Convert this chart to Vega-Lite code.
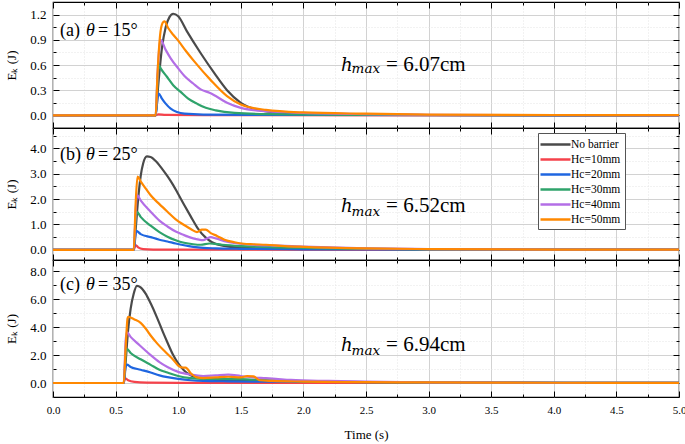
{
"$schema": "https://vega.github.io/schema/vega-lite/v6.json",
"padding": {"left": 5, "top": 0, "right": 0, "bottom": 0},
"spacing": 0,
"bounds": "flush",
"resolve": {"scale": {"x": "independent", "y": "independent", "color": "independent"}},
"datasets": {
"a": [
{"s":"No barrier","t":0,"v":0},{"s":"No barrier","t":0.82,"v":0},{"s":"No barrier","t":0.84,"v":0.35},{"s":"No barrier","t":0.87,"v":0.8},{"s":"No barrier","t":0.9,"v":1.05},{"s":"No barrier","t":0.93,"v":1.17},{"s":"No barrier","t":0.96,"v":1.21},{"s":"No barrier","t":1.0,"v":1.18},{"s":"No barrier","t":1.07,"v":1.0},{"s":"No barrier","t":1.18,"v":0.74},{"s":"No barrier","t":1.29,"v":0.5},{"s":"No barrier","t":1.39,"v":0.3},{"s":"No barrier","t":1.5,"v":0.15},{"s":"No barrier","t":1.66,"v":0.06},{"s":"No barrier","t":1.9,"v":0.025},{"s":"No barrier","t":2.3,"v":0.01},{"s":"No barrier","t":3,"v":0.005},{"s":"No barrier","t":5,"v":0},
{"s":"Hc=10mm","t":0,"v":0},{"s":"Hc=10mm","t":0.82,"v":0},{"s":"Hc=10mm","t":0.84,"v":0.012},{"s":"Hc=10mm","t":0.9,"v":0.006},{"s":"Hc=10mm","t":1.2,"v":0.003},{"s":"Hc=10mm","t":5,"v":0},
{"s":"Hc=20mm","t":0,"v":0},{"s":"Hc=20mm","t":0.82,"v":0},{"s":"Hc=20mm","t":0.835,"v":0.2},{"s":"Hc=20mm","t":0.845,"v":0.26},{"s":"Hc=20mm","t":0.87,"v":0.2},{"s":"Hc=20mm","t":0.9,"v":0.14},{"s":"Hc=20mm","t":0.94,"v":0.08},{"s":"Hc=20mm","t":0.99,"v":0.04},{"s":"Hc=20mm","t":1.05,"v":0.02},{"s":"Hc=20mm","t":1.2,"v":0.01},{"s":"Hc=20mm","t":2,"v":0.005},{"s":"Hc=20mm","t":5,"v":0},
{"s":"Hc=30mm","t":0,"v":0},{"s":"Hc=30mm","t":0.82,"v":0},{"s":"Hc=30mm","t":0.835,"v":0.42},{"s":"Hc=30mm","t":0.845,"v":0.6},{"s":"Hc=30mm","t":0.86,"v":0.56},{"s":"Hc=30mm","t":0.91,"v":0.46},{"s":"Hc=30mm","t":0.96,"v":0.36},{"s":"Hc=30mm","t":1.02,"v":0.28},{"s":"Hc=30mm","t":1.08,"v":0.2},{"s":"Hc=30mm","t":1.15,"v":0.14},{"s":"Hc=30mm","t":1.22,"v":0.09},{"s":"Hc=30mm","t":1.3,"v":0.06},{"s":"Hc=30mm","t":1.45,"v":0.03},{"s":"Hc=30mm","t":1.7,"v":0.015},{"s":"Hc=30mm","t":2.5,"v":0.005},{"s":"Hc=30mm","t":5,"v":0},
{"s":"Hc=40mm","t":0,"v":0},{"s":"Hc=40mm","t":0.82,"v":0},{"s":"Hc=40mm","t":0.835,"v":0.5},{"s":"Hc=40mm","t":0.85,"v":0.82},{"s":"Hc=40mm","t":0.86,"v":0.9},{"s":"Hc=40mm","t":0.9,"v":0.78},{"s":"Hc=40mm","t":0.94,"v":0.68},{"s":"Hc=40mm","t":1.0,"v":0.56},{"s":"Hc=40mm","t":1.05,"v":0.47},{"s":"Hc=40mm","t":1.12,"v":0.38},{"s":"Hc=40mm","t":1.18,"v":0.31},{"s":"Hc=40mm","t":1.25,"v":0.27},{"s":"Hc=40mm","t":1.3,"v":0.23},{"s":"Hc=40mm","t":1.39,"v":0.15},{"s":"Hc=40mm","t":1.5,"v":0.09},{"s":"Hc=40mm","t":1.7,"v":0.05},{"s":"Hc=40mm","t":2.0,"v":0.03},{"s":"Hc=40mm","t":2.5,"v":0.015},{"s":"Hc=40mm","t":3,"v":0.008},{"s":"Hc=40mm","t":5,"v":0},
{"s":"Hc=50mm","t":0,"v":0},{"s":"Hc=50mm","t":0.82,"v":0},{"s":"Hc=50mm","t":0.835,"v":0.5},{"s":"Hc=50mm","t":0.855,"v":0.95},{"s":"Hc=50mm","t":0.875,"v":1.1},{"s":"Hc=50mm","t":0.89,"v":1.12},{"s":"Hc=50mm","t":0.92,"v":1.04},{"s":"Hc=50mm","t":0.96,"v":0.96},{"s":"Hc=50mm","t":1.0,"v":0.89},{"s":"Hc=50mm","t":1.06,"v":0.77},{"s":"Hc=50mm","t":1.13,"v":0.64},{"s":"Hc=50mm","t":1.26,"v":0.42},{"s":"Hc=50mm","t":1.39,"v":0.23},{"s":"Hc=50mm","t":1.5,"v":0.13},{"s":"Hc=50mm","t":1.7,"v":0.065},{"s":"Hc=50mm","t":2.0,"v":0.035},{"s":"Hc=50mm","t":2.5,"v":0.02},{"s":"Hc=50mm","t":3.0,"v":0.01},{"s":"Hc=50mm","t":4,"v":0.005},{"s":"Hc=50mm","t":5,"v":0.003}
],
"b": [
{"s":"No barrier","t":0,"v":0},{"s":"No barrier","t":0.645,"v":0},{"s":"No barrier","t":0.66,"v":0.8},{"s":"No barrier","t":0.68,"v":2.0},{"s":"No barrier","t":0.7,"v":2.9},{"s":"No barrier","t":0.72,"v":3.4},{"s":"No barrier","t":0.75,"v":3.68},{"s":"No barrier","t":0.78,"v":3.66},{"s":"No barrier","t":0.82,"v":3.5},{"s":"No barrier","t":0.87,"v":3.2},{"s":"No barrier","t":0.914,"v":2.9},{"s":"No barrier","t":0.96,"v":2.55},{"s":"No barrier","t":1.0,"v":2.2},{"s":"No barrier","t":1.047,"v":1.78},{"s":"No barrier","t":1.1,"v":1.32},{"s":"No barrier","t":1.155,"v":0.86},{"s":"No barrier","t":1.22,"v":0.48},{"s":"No barrier","t":1.27,"v":0.3},{"s":"No barrier","t":1.33,"v":0.19},{"s":"No barrier","t":1.4,"v":0.13},{"s":"No barrier","t":1.5,"v":0.09},{"s":"No barrier","t":1.8,"v":0.04},{"s":"No barrier","t":2.5,"v":0.02},{"s":"No barrier","t":5,"v":0.005},
{"s":"Hc=10mm","t":0,"v":0},{"s":"Hc=10mm","t":0.645,"v":0},{"s":"Hc=10mm","t":0.66,"v":0.19},{"s":"Hc=10mm","t":0.68,"v":0.1},{"s":"Hc=10mm","t":0.72,"v":0.03},{"s":"Hc=10mm","t":0.8,"v":0.01},{"s":"Hc=10mm","t":1.0,"v":0.005},{"s":"Hc=10mm","t":5,"v":0},
{"s":"Hc=20mm","t":0,"v":0},{"s":"Hc=20mm","t":0.645,"v":0},{"s":"Hc=20mm","t":0.66,"v":0.6},{"s":"Hc=20mm","t":0.665,"v":0.75},{"s":"Hc=20mm","t":0.7,"v":0.62},{"s":"Hc=20mm","t":0.78,"v":0.5},{"s":"Hc=20mm","t":0.85,"v":0.4},{"s":"Hc=20mm","t":0.914,"v":0.33},{"s":"Hc=20mm","t":0.98,"v":0.25},{"s":"Hc=20mm","t":1.047,"v":0.18},{"s":"Hc=20mm","t":1.12,"v":0.12},{"s":"Hc=20mm","t":1.2,"v":0.08},{"s":"Hc=20mm","t":1.3,"v":0.06},{"s":"Hc=20mm","t":1.5,"v":0.04},{"s":"Hc=20mm","t":2,"v":0.02},{"s":"Hc=20mm","t":3,"v":0.01},{"s":"Hc=20mm","t":5,"v":0},
{"s":"Hc=30mm","t":0,"v":0},{"s":"Hc=30mm","t":0.645,"v":0},{"s":"Hc=30mm","t":0.66,"v":1.2},{"s":"Hc=30mm","t":0.67,"v":1.5},{"s":"Hc=30mm","t":0.7,"v":1.3},{"s":"Hc=30mm","t":0.78,"v":0.95},{"s":"Hc=30mm","t":0.85,"v":0.7},{"s":"Hc=30mm","t":0.914,"v":0.52},{"s":"Hc=30mm","t":0.98,"v":0.38},{"s":"Hc=30mm","t":1.047,"v":0.28},{"s":"Hc=30mm","t":1.12,"v":0.22},{"s":"Hc=30mm","t":1.18,"v":0.2},{"s":"Hc=30mm","t":1.25,"v":0.25},{"s":"Hc=30mm","t":1.35,"v":0.2},{"s":"Hc=30mm","t":1.5,"v":0.15},{"s":"Hc=30mm","t":1.8,"v":0.1},{"s":"Hc=30mm","t":2.2,"v":0.06},{"s":"Hc=30mm","t":3,"v":0.02},{"s":"Hc=30mm","t":5,"v":0.005},
{"s":"Hc=40mm","t":0,"v":0},{"s":"Hc=40mm","t":0.645,"v":0},{"s":"Hc=40mm","t":0.66,"v":1.5},{"s":"Hc=40mm","t":0.67,"v":2.17},{"s":"Hc=40mm","t":0.7,"v":1.95},{"s":"Hc=40mm","t":0.78,"v":1.5},{"s":"Hc=40mm","t":0.85,"v":1.15},{"s":"Hc=40mm","t":0.914,"v":0.92},{"s":"Hc=40mm","t":0.98,"v":0.72},{"s":"Hc=40mm","t":1.047,"v":0.58},{"s":"Hc=40mm","t":1.12,"v":0.45},{"s":"Hc=40mm","t":1.2,"v":0.38},{"s":"Hc=40mm","t":1.23,"v":0.45},{"s":"Hc=40mm","t":1.26,"v":0.5},{"s":"Hc=40mm","t":1.3,"v":0.45},{"s":"Hc=40mm","t":1.39,"v":0.32},{"s":"Hc=40mm","t":1.5,"v":0.24},{"s":"Hc=40mm","t":1.6,"v":0.2},{"s":"Hc=40mm","t":1.8,"v":0.17},{"s":"Hc=40mm","t":2.0,"v":0.13},{"s":"Hc=40mm","t":2.5,"v":0.06},{"s":"Hc=40mm","t":3,"v":0.03},{"s":"Hc=40mm","t":4,"v":0.01},{"s":"Hc=40mm","t":5,"v":0.005},
{"s":"Hc=50mm","t":0,"v":0},{"s":"Hc=50mm","t":0.645,"v":0},{"s":"Hc=50mm","t":0.66,"v":1.8},{"s":"Hc=50mm","t":0.675,"v":2.89},{"s":"Hc=50mm","t":0.7,"v":2.7},{"s":"Hc=50mm","t":0.75,"v":2.35},{"s":"Hc=50mm","t":0.78,"v":2.15},{"s":"Hc=50mm","t":0.85,"v":1.8},{"s":"Hc=50mm","t":0.914,"v":1.5},{"s":"Hc=50mm","t":0.98,"v":1.2},{"s":"Hc=50mm","t":1.047,"v":0.98},{"s":"Hc=50mm","t":1.1,"v":0.82},{"s":"Hc=50mm","t":1.15,"v":0.7},{"s":"Hc=50mm","t":1.19,"v":0.8},{"s":"Hc=50mm","t":1.22,"v":0.8},{"s":"Hc=50mm","t":1.26,"v":0.66},{"s":"Hc=50mm","t":1.31,"v":0.55},{"s":"Hc=50mm","t":1.37,"v":0.4},{"s":"Hc=50mm","t":1.45,"v":0.3},{"s":"Hc=50mm","t":1.525,"v":0.24},{"s":"Hc=50mm","t":1.6,"v":0.22},{"s":"Hc=50mm","t":1.7,"v":0.2},{"s":"Hc=50mm","t":1.85,"v":0.15},{"s":"Hc=50mm","t":2.0,"v":0.12},{"s":"Hc=50mm","t":2.5,"v":0.06},{"s":"Hc=50mm","t":3.0,"v":0.03},{"s":"Hc=50mm","t":4,"v":0.01},{"s":"Hc=50mm","t":5,"v":0.005}
],
"c": [
{"s":"No barrier","t":0,"v":0},{"s":"No barrier","t":0.565,"v":0},{"s":"No barrier","t":0.58,"v":1.5},{"s":"No barrier","t":0.6,"v":3.8},{"s":"No barrier","t":0.62,"v":5.3},{"s":"No barrier","t":0.645,"v":6.4},{"s":"No barrier","t":0.67,"v":6.95},{"s":"No barrier","t":0.7,"v":6.85},{"s":"No barrier","t":0.74,"v":6.4},{"s":"No barrier","t":0.78,"v":5.7},{"s":"No barrier","t":0.83,"v":4.7},{"s":"No barrier","t":0.88,"v":3.6},{"s":"No barrier","t":0.914,"v":2.9},{"s":"No barrier","t":0.96,"v":2.0},{"s":"No barrier","t":1.0,"v":1.4},{"s":"No barrier","t":1.047,"v":0.9},{"s":"No barrier","t":1.1,"v":0.55},{"s":"No barrier","t":1.18,"v":0.33},{"s":"No barrier","t":1.3,"v":0.2},{"s":"No barrier","t":1.5,"v":0.15},{"s":"No barrier","t":2,"v":0.08},{"s":"No barrier","t":3,"v":0.03},{"s":"No barrier","t":5,"v":0.01},
{"s":"Hc=10mm","t":0,"v":0},{"s":"Hc=10mm","t":0.565,"v":0},{"s":"Hc=10mm","t":0.575,"v":0.36},{"s":"Hc=10mm","t":0.6,"v":0.2},{"s":"Hc=10mm","t":0.65,"v":0.08},{"s":"Hc=10mm","t":0.75,"v":0.03},{"s":"Hc=10mm","t":1.0,"v":0.01},{"s":"Hc=10mm","t":5,"v":0},
{"s":"Hc=20mm","t":0,"v":0},{"s":"Hc=20mm","t":0.565,"v":0},{"s":"Hc=20mm","t":0.58,"v":1.1},{"s":"Hc=20mm","t":0.59,"v":1.31},{"s":"Hc=20mm","t":0.62,"v":1.15},{"s":"Hc=20mm","t":0.7,"v":0.95},{"s":"Hc=20mm","t":0.78,"v":0.75},{"s":"Hc=20mm","t":0.85,"v":0.55},{"s":"Hc=20mm","t":0.914,"v":0.42},{"s":"Hc=20mm","t":1.0,"v":0.3},{"s":"Hc=20mm","t":1.1,"v":0.2},{"s":"Hc=20mm","t":1.2,"v":0.15},{"s":"Hc=20mm","t":1.4,"v":0.12},{"s":"Hc=20mm","t":1.7,"v":0.1},{"s":"Hc=20mm","t":2,"v":0.08},{"s":"Hc=20mm","t":3,"v":0.04},{"s":"Hc=20mm","t":5,"v":0.01},
{"s":"Hc=30mm","t":0,"v":0},{"s":"Hc=30mm","t":0.565,"v":0},{"s":"Hc=30mm","t":0.58,"v":2.0},{"s":"Hc=30mm","t":0.59,"v":2.45},{"s":"Hc=30mm","t":0.62,"v":2.15},{"s":"Hc=30mm","t":0.7,"v":1.7},{"s":"Hc=30mm","t":0.78,"v":1.3},{"s":"Hc=30mm","t":0.85,"v":0.95},{"s":"Hc=30mm","t":0.914,"v":0.75},{"s":"Hc=30mm","t":1.0,"v":0.5},{"s":"Hc=30mm","t":1.1,"v":0.35},{"s":"Hc=30mm","t":1.2,"v":0.3},{"s":"Hc=30mm","t":1.35,"v":0.3},{"s":"Hc=30mm","t":1.5,"v":0.28},{"s":"Hc=30mm","t":1.7,"v":0.2},{"s":"Hc=30mm","t":2.0,"v":0.12},{"s":"Hc=30mm","t":2.5,"v":0.07},{"s":"Hc=30mm","t":3,"v":0.04},{"s":"Hc=30mm","t":4,"v":0.02},{"s":"Hc=30mm","t":5,"v":0.01},
{"s":"Hc=40mm","t":0,"v":0},{"s":"Hc=40mm","t":0.565,"v":0},{"s":"Hc=40mm","t":0.58,"v":3.0},{"s":"Hc=40mm","t":0.59,"v":3.64},{"s":"Hc=40mm","t":0.62,"v":3.3},{"s":"Hc=40mm","t":0.68,"v":2.8},{"s":"Hc=40mm","t":0.78,"v":2.0},{"s":"Hc=40mm","t":0.85,"v":1.5},{"s":"Hc=40mm","t":0.914,"v":1.15},{"s":"Hc=40mm","t":1.0,"v":0.8},{"s":"Hc=40mm","t":1.1,"v":0.6},{"s":"Hc=40mm","t":1.2,"v":0.5},{"s":"Hc=40mm","t":1.3,"v":0.55},{"s":"Hc=40mm","t":1.4,"v":0.6},{"s":"Hc=40mm","t":1.5,"v":0.5},{"s":"Hc=40mm","t":1.6,"v":0.4},{"s":"Hc=40mm","t":1.7,"v":0.35},{"s":"Hc=40mm","t":1.78,"v":0.3},{"s":"Hc=40mm","t":1.9,"v":0.22},{"s":"Hc=40mm","t":2.2,"v":0.15},{"s":"Hc=40mm","t":2.5,"v":0.1},{"s":"Hc=40mm","t":3,"v":0.05},{"s":"Hc=40mm","t":4,"v":0.02},{"s":"Hc=40mm","t":5,"v":0.01},
{"s":"Hc=50mm","t":0,"v":0},{"s":"Hc=50mm","t":0.565,"v":0},{"s":"Hc=50mm","t":0.58,"v":2.5},{"s":"Hc=50mm","t":0.595,"v":4.6},{"s":"Hc=50mm","t":0.6,"v":4.74},{"s":"Hc=50mm","t":0.65,"v":4.55},{"s":"Hc=50mm","t":0.7,"v":4.3},{"s":"Hc=50mm","t":0.74,"v":3.9},{"s":"Hc=50mm","t":0.78,"v":3.4},{"s":"Hc=50mm","t":0.835,"v":2.8},{"s":"Hc=50mm","t":0.9,"v":2.2},{"s":"Hc=50mm","t":0.967,"v":1.6},{"s":"Hc=50mm","t":1.0,"v":1.25},{"s":"Hc=50mm","t":1.04,"v":1.1},{"s":"Hc=50mm","t":1.06,"v":1.1},{"s":"Hc=50mm","t":1.1,"v":0.7},{"s":"Hc=50mm","t":1.15,"v":0.4},{"s":"Hc=50mm","t":1.2,"v":0.35},{"s":"Hc=50mm","t":1.3,"v":0.4},{"s":"Hc=50mm","t":1.4,"v":0.45},{"s":"Hc=50mm","t":1.5,"v":0.4},{"s":"Hc=50mm","t":1.55,"v":0.5},{"s":"Hc=50mm","t":1.6,"v":0.48},{"s":"Hc=50mm","t":1.65,"v":0.2},{"s":"Hc=50mm","t":1.75,"v":0.15},{"s":"Hc=50mm","t":2.0,"v":0.1},{"s":"Hc=50mm","t":2.5,"v":0.06},{"s":"Hc=50mm","t":3,"v":0.04},{"s":"Hc=50mm","t":4,"v":0.02},{"s":"Hc=50mm","t":5,"v":0.01}
],
"notes": [
{"p":"a","k":"lab","t":0.056,"v":1.008,"txt":"(a)"},{"p":"a","k":"th","t":0.264,"v":1.008,"txt":"θ"},{"p":"a","k":"deg","t":0.359,"v":1.008,"txt":"= 15°"},
{"p":"a","k":"h","t":2.3,"v":0.532,"txt":"h"},{"p":"a","k":"max","t":2.385,"v":0.5,"txt":"max"},{"p":"a","k":"eq","t":2.66,"v":0.532,"txt":"= 6.07cm"},
{"p":"b","k":"lab","t":0.056,"v":3.72,"txt":"(b)"},{"p":"b","k":"th","t":0.264,"v":3.72,"txt":"θ"},{"p":"b","k":"deg","t":0.359,"v":3.72,"txt":"= 25°"},
{"p":"b","k":"h","t":2.3,"v":1.51,"txt":"h"},{"p":"b","k":"max","t":2.385,"v":1.34,"txt":"max"},{"p":"b","k":"eq","t":2.66,"v":1.51,"txt":"= 6.52cm"},
{"p":"c","k":"lab","t":0.056,"v":6.98,"txt":"(c)"},{"p":"c","k":"th","t":0.264,"v":6.98,"txt":"θ"},{"p":"c","k":"deg","t":0.359,"v":6.98,"txt":"= 35°"},
{"p":"c","k":"h","t":2.3,"v":2.29,"txt":"h"},{"p":"c","k":"max","t":2.385,"v":1.98,"txt":"max"},{"p":"c","k":"eq","t":2.66,"v":2.29,"txt":"= 6.94cm"}
]
},
"vconcat": [
{
"width": 626, "height": 126,
"resolve": {"axis": {"x": "independent", "y": "independent"}},
"layer": [
{"data": {"name": "a"},
 "mark": {"type": "line", "strokeWidth": 2.2, "interpolate": "monotone"},
 "encoding": {
  "x": {"field": "t", "type": "quantitative", "scale": {"domain": [0, 5], "nice": false, "zero": false},
   "axis": {"orient": "bottom", "values": [0,0.25,0.5,0.75,1,1.25,1.5,1.75,2,2.25,2.5,2.75,3,3.25,3.5,3.75,4,4.25,4.5,4.75,5], "title": null, "labels": false, "domain": false, "grid": true,
    "gridColor": {"condition": {"test": "datum.value % 0.5 !== 0", "value": "#e4e4e4"}, "value": "#d2d2d2"},
    "gridDash": {"condition": {"test": "datum.value % 0.5 !== 0", "value": [1, 2]}, "value": []},
    "tickSize": {"condition": {"test": "datum.value % 0.5 !== 0", "value": -3}, "value": -6}}},
  "y": {"field": "v", "type": "quantitative", "scale": {"domain": [-0.15, 1.35], "nice": false, "zero": false},
   "axis": {"orient": "left", "values": [0,0.15,0.3,0.45,0.6,0.75,0.9,1.05,1.2], "title": "Eₖ (J)", "titleFontSize": 13, "titlePadding": 11,
    "labelExpr": "abs(datum.value/0.3-round(datum.value/0.3))<0.001 ? format(datum.value,'.1f') : ''", "labelFontSize": 13, "labelPadding": 13, "domain": false, "grid": true,
    "gridColor": {"condition": {"test": "abs(datum.value/0.3-round(datum.value/0.3))>0.001", "value": "#e4e4e4"}, "value": "#d2d2d2"},
    "gridDash": {"condition": {"test": "abs(datum.value/0.3-round(datum.value/0.3))>0.001", "value": [1, 2]}, "value": []},
    "tickSize": {"condition": {"test": "abs(datum.value/0.3-round(datum.value/0.3))>0.001", "value": -3}, "value": -6}}},
  "color": {"field": "s", "type": "nominal", "legend": null,
   "scale": {"domain": ["No barrier","Hc=10mm","Hc=20mm","Hc=30mm","Hc=40mm","Hc=50mm"], "range": ["#4a4a4a","#f5424b","#1f66e0","#2fa36b","#b36ee6","#ff8800"]}}
 }},
{"data": {"name": "notes"}, "transform": [{"filter": "datum.p=='a' && datum.k=='lab'"}],
 "mark": {"type": "text", "align": "left", "baseline": "middle", "fontSize": 18, "font": "Liberation Serif"},
 "encoding": {
  "x": {"field": "t", "type": "quantitative", "axis": {"orient": "top", "values": [0,0.25,0.5,0.75,1,1.25,1.5,1.75,2,2.25,2.5,2.75,3,3.25,3.5,3.75,4,4.25,4.5,4.75,5], "title": null, "labels": false, "domain": false, "grid": false,
    "tickSize": {"condition": {"test": "datum.value % 0.5 !== 0", "value": -3}, "value": -6}}},
  "y": {"field": "v", "type": "quantitative", "axis": {"orient": "right", "values": [0,0.15,0.3,0.45,0.6,0.75,0.9,1.05,1.2], "title": null, "labels": false, "domain": false, "grid": false,
    "tickSize": {"condition": {"test": "abs(datum.value/0.3-round(datum.value/0.3))>0.001", "value": -3}, "value": -6}}},
  "text": {"field": "txt"}}},
{"data": {"name": "notes"}, "transform": [{"filter": "datum.p=='a' && datum.k=='th'"}],
 "mark": {"type": "text", "align": "left", "baseline": "middle", "fontSize": 18, "fontStyle": "italic", "font": "Liberation Serif"},
 "encoding": {"x": {"field": "t", "type": "quantitative", "axis": null}, "y": {"field": "v", "type": "quantitative", "axis": null}, "text": {"field": "txt"}}},
{"data": {"name": "notes"}, "transform": [{"filter": "datum.p=='a' && datum.k=='deg'"}],
 "mark": {"type": "text", "align": "left", "baseline": "middle", "fontSize": 18, "font": "Liberation Serif"},
 "encoding": {"x": {"field": "t", "type": "quantitative", "axis": null}, "y": {"field": "v", "type": "quantitative", "axis": null}, "text": {"field": "txt"}}},
{"data": {"name": "notes"}, "transform": [{"filter": "datum.p=='a' && datum.k=='h'"}],
 "mark": {"type": "text", "align": "left", "baseline": "alphabetic", "fontSize": 18, "fontStyle": "italic", "font": "DejaVu Serif"},
 "encoding": {"x": {"field": "t", "type": "quantitative", "axis": null}, "y": {"field": "v", "type": "quantitative", "axis": null}, "text": {"field": "txt"}}},
{"data": {"name": "notes"}, "transform": [{"filter": "datum.p=='a' && datum.k=='max'"}],
 "mark": {"type": "text", "align": "left", "baseline": "alphabetic", "fontSize": 13.5, "fontStyle": "italic", "font": "DejaVu Serif"},
 "encoding": {"x": {"field": "t", "type": "quantitative", "axis": null}, "y": {"field": "v", "type": "quantitative", "axis": null}, "text": {"field": "txt"}}},
{"data": {"name": "notes"}, "transform": [{"filter": "datum.p=='a' && datum.k=='eq'"}],
 "mark": {"type": "text", "align": "left", "baseline": "alphabetic", "fontSize": 21, "font": "Liberation Serif"},
 "encoding": {"x": {"field": "t", "type": "quantitative", "axis": null}, "y": {"field": "v", "type": "quantitative", "axis": null}, "text": {"field": "txt"}}}
]
},
{
"width": 626, "height": 132,
"resolve": {"axis": {"x": "independent", "y": "independent"}},
"layer": [
{"data": {"name": "b"},
 "mark": {"type": "line", "strokeWidth": 2.2, "interpolate": "monotone"},
 "encoding": {
  "x": {"field": "t", "type": "quantitative", "scale": {"domain": [0, 5], "nice": false, "zero": false},
   "axis": {"orient": "bottom", "values": [0,0.25,0.5,0.75,1,1.25,1.5,1.75,2,2.25,2.5,2.75,3,3.25,3.5,3.75,4,4.25,4.5,4.75,5], "title": null, "labels": false, "domain": false, "grid": true,
    "gridColor": {"condition": {"test": "datum.value % 0.5 !== 0", "value": "#e4e4e4"}, "value": "#d2d2d2"},
    "gridDash": {"condition": {"test": "datum.value % 0.5 !== 0", "value": [1, 2]}, "value": []},
    "tickSize": {"condition": {"test": "datum.value % 0.5 !== 0", "value": -3}, "value": -6}}},
  "y": {"field": "v", "type": "quantitative", "scale": {"domain": [-0.4, 4.8], "nice": false, "zero": false},
   "axis": {"orient": "left", "values": [0,0.5,1,1.5,2,2.5,3,3.5,4,4.5], "title": "Eₖ (J)", "titleFontSize": 13, "titlePadding": 11,
    "labelExpr": "datum.value % 1 === 0 ? format(datum.value,'.1f') : ''", "labelFontSize": 13, "labelPadding": 13, "domain": false, "grid": true,
    "gridColor": {"condition": {"test": "datum.value % 1 !== 0", "value": "#e4e4e4"}, "value": "#d2d2d2"},
    "gridDash": {"condition": {"test": "datum.value % 1 !== 0", "value": [1, 2]}, "value": []},
    "tickSize": {"condition": {"test": "datum.value % 1 !== 0", "value": -3}, "value": -6}}},
  "color": {"field": "s", "type": "nominal",
   "legend": {"orient": "none", "legendX": 485, "legendY": 5, "title": null},
   "scale": {"domain": ["No barrier","Hc=10mm","Hc=20mm","Hc=30mm","Hc=40mm","Hc=50mm"], "range": ["#4a4a4a","#f5424b","#1f66e0","#2fa36b","#b36ee6","#ff8800"]}}
 }},
{"data": {"name": "notes"}, "transform": [{"filter": "datum.p=='b' && datum.k=='lab'"}],
 "mark": {"type": "text", "align": "left", "baseline": "middle", "fontSize": 18, "font": "Liberation Serif"},
 "encoding": {
  "x": {"field": "t", "type": "quantitative", "axis": {"orient": "top", "values": [0,0.25,0.5,0.75,1,1.25,1.5,1.75,2,2.25,2.5,2.75,3,3.25,3.5,3.75,4,4.25,4.5,4.75,5], "title": null, "labels": false, "domain": false, "grid": false,
    "tickSize": {"condition": {"test": "datum.value % 0.5 !== 0", "value": -3}, "value": -6}}},
  "y": {"field": "v", "type": "quantitative", "axis": {"orient": "right", "values": [0,0.5,1,1.5,2,2.5,3,3.5,4,4.5], "title": null, "labels": false, "domain": false, "grid": false,
    "tickSize": {"condition": {"test": "datum.value % 1 !== 0", "value": -3}, "value": -6}}},
  "text": {"field": "txt"}}},
{"data": {"name": "notes"}, "transform": [{"filter": "datum.p=='b' && datum.k=='th'"}],
 "mark": {"type": "text", "align": "left", "baseline": "middle", "fontSize": 18, "fontStyle": "italic", "font": "Liberation Serif"},
 "encoding": {"x": {"field": "t", "type": "quantitative", "axis": null}, "y": {"field": "v", "type": "quantitative", "axis": null}, "text": {"field": "txt"}}},
{"data": {"name": "notes"}, "transform": [{"filter": "datum.p=='b' && datum.k=='deg'"}],
 "mark": {"type": "text", "align": "left", "baseline": "middle", "fontSize": 18, "font": "Liberation Serif"},
 "encoding": {"x": {"field": "t", "type": "quantitative", "axis": null}, "y": {"field": "v", "type": "quantitative", "axis": null}, "text": {"field": "txt"}}},
{"data": {"name": "notes"}, "transform": [{"filter": "datum.p=='b' && datum.k=='h'"}],
 "mark": {"type": "text", "align": "left", "baseline": "alphabetic", "fontSize": 18, "fontStyle": "italic", "font": "DejaVu Serif"},
 "encoding": {"x": {"field": "t", "type": "quantitative", "axis": null}, "y": {"field": "v", "type": "quantitative", "axis": null}, "text": {"field": "txt"}}},
{"data": {"name": "notes"}, "transform": [{"filter": "datum.p=='b' && datum.k=='max'"}],
 "mark": {"type": "text", "align": "left", "baseline": "alphabetic", "fontSize": 13.5, "fontStyle": "italic", "font": "DejaVu Serif"},
 "encoding": {"x": {"field": "t", "type": "quantitative", "axis": null}, "y": {"field": "v", "type": "quantitative", "axis": null}, "text": {"field": "txt"}}},
{"data": {"name": "notes"}, "transform": [{"filter": "datum.p=='b' && datum.k=='eq'"}],
 "mark": {"type": "text", "align": "left", "baseline": "alphabetic", "fontSize": 21, "font": "Liberation Serif"},
 "encoding": {"x": {"field": "t", "type": "quantitative", "axis": null}, "y": {"field": "v", "type": "quantitative", "axis": null}, "text": {"field": "txt"}}}
]
},
{
"width": 626, "height": 137,
"resolve": {"axis": {"x": "independent", "y": "independent"}},
"layer": [
{"data": {"name": "c"},
 "mark": {"type": "line", "strokeWidth": 2.2, "interpolate": "monotone"},
 "encoding": {
  "x": {"field": "t", "type": "quantitative", "scale": {"domain": [0, 5], "nice": false, "zero": false},
   "axis": {"orient": "bottom", "values": [0,0.25,0.5,0.75,1,1.25,1.5,1.75,2,2.25,2.5,2.75,3,3.25,3.5,3.75,4,4.25,4.5,4.75,5], "title": "Time (s)", "titleFontSize": 13, "titlePadding": 10,
    "labelExpr": "datum.value % 0.5 === 0 ? format(datum.value,'.1f') : ''", "labelFontSize": 11, "labelPadding": 13, "domain": false, "grid": true,
    "gridColor": {"condition": {"test": "datum.value % 0.5 !== 0", "value": "#e4e4e4"}, "value": "#d2d2d2"},
    "gridDash": {"condition": {"test": "datum.value % 0.5 !== 0", "value": [1, 2]}, "value": []},
    "tickSize": {"condition": {"test": "datum.value % 0.5 !== 0", "value": -3}, "value": -6}}},
  "y": {"field": "v", "type": "quantitative", "scale": {"domain": [-1, 8.8], "nice": false, "zero": false},
   "axis": {"orient": "left", "values": [0,1,2,3,4,5,6,7,8], "title": "Eₖ (J)", "titleFontSize": 13, "titlePadding": 11,
    "labelExpr": "datum.value % 2 === 0 ? format(datum.value,'.1f') : ''", "labelFontSize": 13, "labelPadding": 13, "domain": false, "grid": true,
    "gridColor": {"condition": {"test": "datum.value % 2 !== 0", "value": "#e4e4e4"}, "value": "#d2d2d2"},
    "gridDash": {"condition": {"test": "datum.value % 2 !== 0", "value": [1, 2]}, "value": []},
    "tickSize": {"condition": {"test": "datum.value % 2 !== 0", "value": -3}, "value": -6}}},
  "color": {"field": "s", "type": "nominal", "legend": null,
   "scale": {"domain": ["No barrier","Hc=10mm","Hc=20mm","Hc=30mm","Hc=40mm","Hc=50mm"], "range": ["#4a4a4a","#f5424b","#1f66e0","#2fa36b","#b36ee6","#ff8800"]}}
 }},
{"data": {"name": "notes"}, "transform": [{"filter": "datum.p=='c' && datum.k=='lab'"}],
 "mark": {"type": "text", "align": "left", "baseline": "middle", "fontSize": 18, "font": "Liberation Serif"},
 "encoding": {
  "x": {"field": "t", "type": "quantitative", "axis": {"orient": "top", "values": [0,0.25,0.5,0.75,1,1.25,1.5,1.75,2,2.25,2.5,2.75,3,3.25,3.5,3.75,4,4.25,4.5,4.75,5], "title": null, "labels": false, "domain": false, "grid": false,
    "tickSize": {"condition": {"test": "datum.value % 0.5 !== 0", "value": -3}, "value": -6}}},
  "y": {"field": "v", "type": "quantitative", "axis": {"orient": "right", "values": [0,1,2,3,4,5,6,7,8], "title": null, "labels": false, "domain": false, "grid": false,
    "tickSize": {"condition": {"test": "datum.value % 2 !== 0", "value": -3}, "value": -6}}},
  "text": {"field": "txt"}}},
{"data": {"name": "notes"}, "transform": [{"filter": "datum.p=='c' && datum.k=='th'"}],
 "mark": {"type": "text", "align": "left", "baseline": "middle", "fontSize": 18, "fontStyle": "italic", "font": "Liberation Serif"},
 "encoding": {"x": {"field": "t", "type": "quantitative", "axis": null}, "y": {"field": "v", "type": "quantitative", "axis": null}, "text": {"field": "txt"}}},
{"data": {"name": "notes"}, "transform": [{"filter": "datum.p=='c' && datum.k=='deg'"}],
 "mark": {"type": "text", "align": "left", "baseline": "middle", "fontSize": 18, "font": "Liberation Serif"},
 "encoding": {"x": {"field": "t", "type": "quantitative", "axis": null}, "y": {"field": "v", "type": "quantitative", "axis": null}, "text": {"field": "txt"}}},
{"data": {"name": "notes"}, "transform": [{"filter": "datum.p=='c' && datum.k=='h'"}],
 "mark": {"type": "text", "align": "left", "baseline": "alphabetic", "fontSize": 18, "fontStyle": "italic", "font": "DejaVu Serif"},
 "encoding": {"x": {"field": "t", "type": "quantitative", "axis": null}, "y": {"field": "v", "type": "quantitative", "axis": null}, "text": {"field": "txt"}}},
{"data": {"name": "notes"}, "transform": [{"filter": "datum.p=='c' && datum.k=='max'"}],
 "mark": {"type": "text", "align": "left", "baseline": "alphabetic", "fontSize": 13.5, "fontStyle": "italic", "font": "DejaVu Serif"},
 "encoding": {"x": {"field": "t", "type": "quantitative", "axis": null}, "y": {"field": "v", "type": "quantitative", "axis": null}, "text": {"field": "txt"}}},
{"data": {"name": "notes"}, "transform": [{"filter": "datum.p=='c' && datum.k=='eq'"}],
 "mark": {"type": "text", "align": "left", "baseline": "alphabetic", "fontSize": 21, "font": "Liberation Serif"},
 "encoding": {"x": {"field": "t", "type": "quantitative", "axis": null}, "y": {"field": "v", "type": "quantitative", "axis": null}, "text": {"field": "txt"}}}
]
}
],
"config": {
 "font": "Liberation Serif",
 "view": {"stroke": "#000", "strokeWidth": 1.2},
 "axis": {"labelFont": "Liberation Serif", "titleFont": "Liberation Serif", "labelColor": "#000", "titleColor": "#000", "titleFontWeight": "normal", "tickColor": "#000", "tickWidth": 1, "labelOverlap": false, "labelFlush": false},
 "legend": {"labelFont": "Liberation Serif", "labelFontSize": 11.5, "labelColor": "#000", "strokeColor": "#555", "fillColor": "#fff", "padding": 4,
  "symbolType": "M-1.5,0H3.5", "symbolSize": 144, "symbolStrokeWidth": 2.5, "labelOffset": 14, "rowPadding": 2},
 "concat": {"spacing": 0}
}
}
